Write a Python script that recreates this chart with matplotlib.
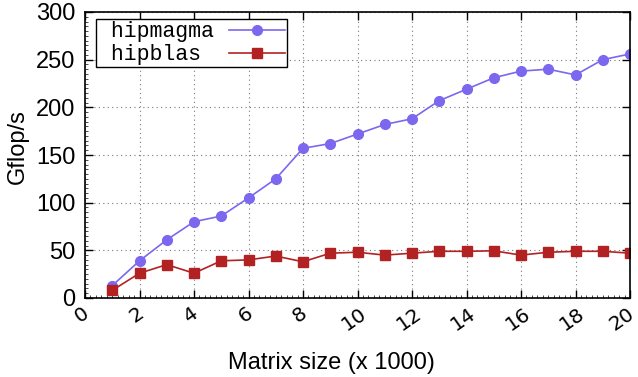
import numpy as np
import matplotlib
matplotlib.use('Agg')
import matplotlib.pyplot as plt
from matplotlib.ticker import MultipleLocator
from matplotlib.transforms import ScaledTranslation

# matrix size (x 1000)
sizes = [1, 2, 3, 4, 5, 6, 7, 8, 9, 10, 11, 12, 13, 14, 15, 16, 17, 18, 19, 20]
hipmagma = [13, 39, 61, 80, 86, 105, 125, 157, 162, 172, 182, 188, 207, 219, 231, 238, 240, 234, 250, 256]
hipblas = [8, 26, 35, 26, 39, 40, 44, 38, 47, 48, 45, 47, 49, 49, 49.5, 45, 48, 49, 49, 47]
xticks = np.arange(0, 21, 2)
yticks = np.arange(0, 301, 50)

plt.rcParams['font.family'] = 'Liberation Sans'

W, H = 638, 377
fig = plt.figure(figsize=(W / 100, H / 100), dpi=100)
# axes box: x 85..630, y 12..298 px
ax = fig.add_axes([85 / W, 1 - 298 / H, 545 / W, 286 / H])

ax.plot(sizes, hipmagma, color='#7b68ee', marker='o', markersize=7, lw=1.2, label=' hipmagma')
ax.plot(sizes, hipblas, color='#b22222', marker='s', markersize=6.5, lw=1.2, label=' hipblas ')

ax.set_xlim(0, 20)
ax.set_ylim(0, 300)
ax.set_xticks(xticks)
ax.set_yticks(yticks)
ax.xaxis.set_minor_locator(MultipleLocator(0.2))
ax.yaxis.set_minor_locator(MultipleLocator(5))
ax.tick_params(which='major', direction='in', length=6, width=1, top=True, right=True, labelsize=17)
ax.tick_params(which='minor', direction='in', length=2, width=0.5, top=False, right=False)
ax.tick_params(axis='x', pad=4)
ax.tick_params(axis='y', pad=7)
labels = ax.get_xticklabels()
for i, lab in enumerate(labels):
    dx = -8 if i == len(labels) - 1 else -3
    lab.set_rotation(35)
    lab.set_ha('center')
    lab.set_family('DejaVu Sans')
    lab.set_fontsize(14.5)
    lab.set_transform(lab.get_transform() + ScaledTranslation(dx / 100, 0, fig.dpi_scale_trans))
for s in ax.spines.values():
    s.set_linewidth(1.2)
ax.grid(True, which='major', linestyle=(0, (1, 3)), color='#777777', lw=0.8)

ax.set_xlabel('Matrix size (x 1000)', fontsize=17)
ax.xaxis.set_label_coords((331 - 85) / 545, (298 - 352) / 286)
ax.set_ylabel('Gflop/s', fontsize=17)
ax.yaxis.set_label_coords((29 - 85) / 545, (298 - 147) / 286)

leg = ax.legend(loc='upper left', bbox_to_anchor=(96 / W, 1 - 19 / H), bbox_transform=fig.transFigure,
                markerfirst=False, prop={'family': 'Liberation Mono', 'size': 15.5},
                fancybox=False, edgecolor='black', framealpha=1, borderaxespad=0,
                handlelength=2.6, labelspacing=0.1, handletextpad=0.7, borderpad=0.1)
leg.get_frame().set_linewidth(1.0)

fig.savefig('out.png', dpi=100)
